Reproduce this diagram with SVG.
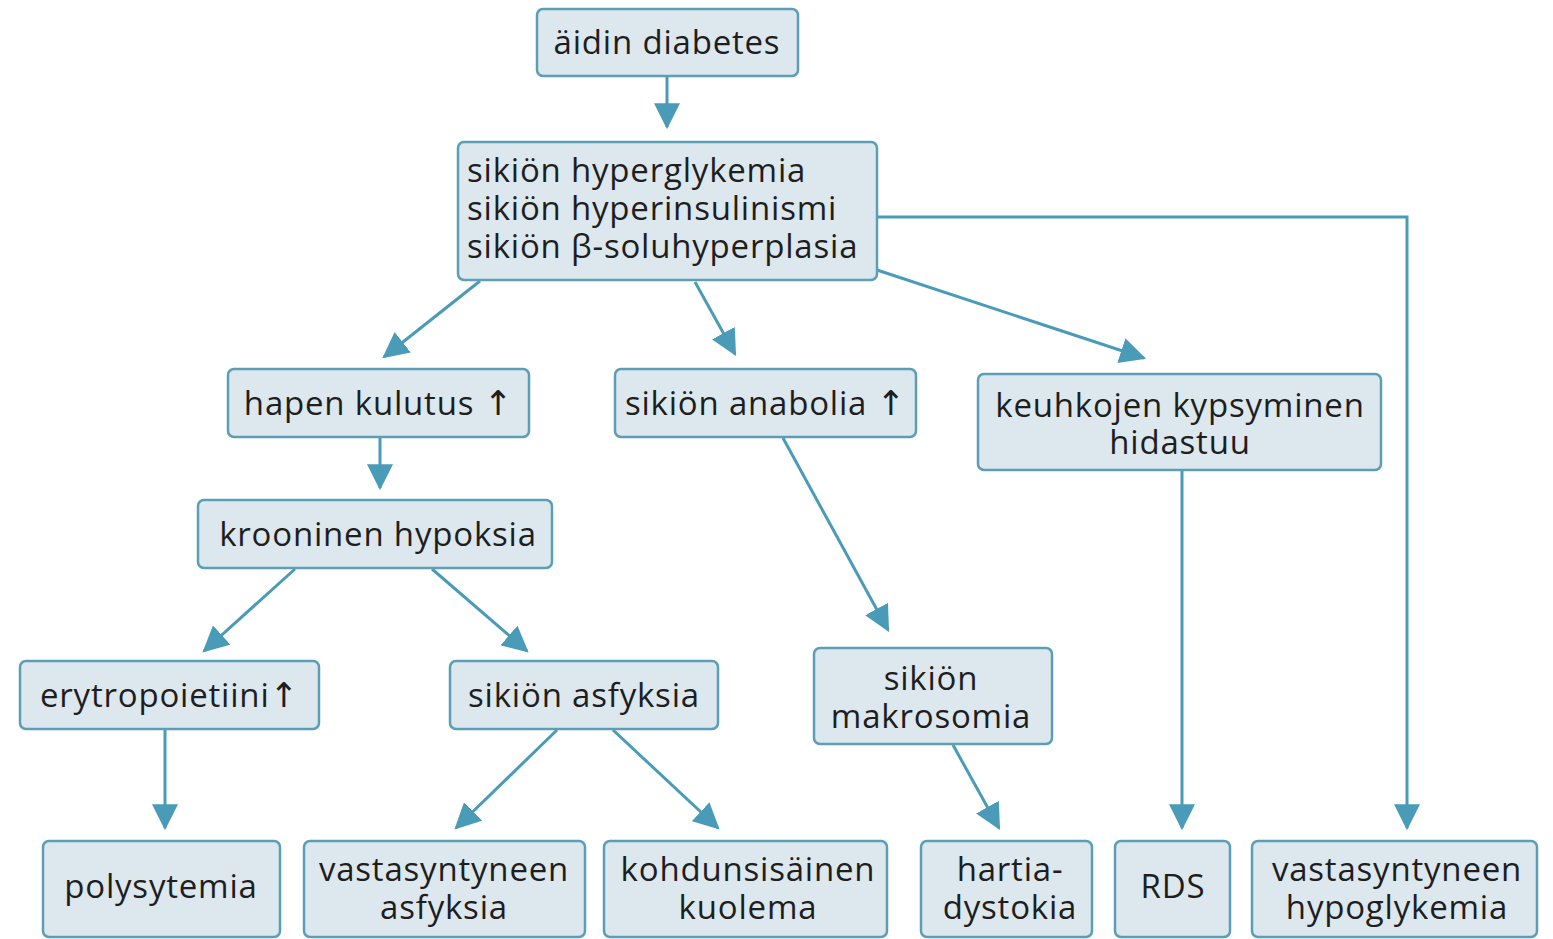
<svg xmlns="http://www.w3.org/2000/svg" width="1553" height="939" viewBox="0 0 1553 939">
<style>
.box{fill:#dce7ee;stroke:#5b9fb6;stroke-width:2.5}
.t{font-family:"Open Sans","Noto Sans","Liberation Sans",sans-serif;font-size:33px;letter-spacing:0.8px;fill:#1e1e1e}
.c{text-anchor:middle}
.up{font-family:"DejaVu Sans",sans-serif;font-size:34px;letter-spacing:0}
.ln{fill:none;stroke:#4a9bb8;stroke-width:3;marker-end:url(#ah)}
</style>
<defs>
<marker id="ah" markerUnits="userSpaceOnUse" markerWidth="26" markerHeight="26" viewBox="0 0 24 24" refX="22" refY="12" orient="auto">
<path d="M0,0 L24,12 L0,24 z" fill="#4a9bb8"/>
</marker>
</defs>
<rect width="1553" height="939" fill="#ffffff"/>
<g id="connectors">
<line class="ln" x1="667" y1="77" x2="667" y2="127"/>
<line class="ln" x1="480" y1="281" x2="384" y2="357"/>
<line class="ln" x1="695" y1="282" x2="735" y2="354"/>
<line class="ln" x1="877" y1="270" x2="1144" y2="358"/>
<polyline class="ln" points="877,217 1407,217 1407,828"/>
<line class="ln" x1="380" y1="438" x2="380" y2="488"/>
<line class="ln" x1="295" y1="569" x2="204" y2="651"/>
<line class="ln" x1="432" y1="569" x2="527" y2="651"/>
<line class="ln" x1="783" y1="438" x2="888" y2="630"/>
<line class="ln" x1="1182" y1="471" x2="1182" y2="828"/>
<line class="ln" x1="165" y1="730" x2="165" y2="828"/>
<line class="ln" x1="557" y1="730" x2="456" y2="828"/>
<line class="ln" x1="613" y1="730" x2="718" y2="828"/>
<line class="ln" x1="953" y1="745" x2="999" y2="828"/>
</g>
<g id="n1"><rect class="box" x="537" y="9" width="261" height="67" rx="6"/><text class="t c" x="667" y="54">äidin diabetes</text></g>
<g id="n2"><rect class="box" x="458" y="142" width="419" height="138" rx="6"/><text class="t" x="467" y="182">sikiön hyperglykemia<tspan x="467" y="220">sikiön hyperinsulinismi</tspan><tspan x="467" y="258">sikiön β-soluhyperplasia</tspan></text></g>
<g id="n3"><rect class="box" x="228" y="369" width="301" height="68" rx="6"/><text class="t c" x="378" y="415">hapen kulutus <tspan class="up">↑</tspan></text></g>
<g id="n4"><rect class="box" x="615" y="369" width="301" height="68" rx="6"/><text class="t c" x="765" y="415">sikiön anabolia <tspan class="up">↑</tspan></text></g>
<g id="n5"><rect class="box" x="978" y="374" width="403" height="96" rx="6"/><text class="t c" x="1180" y="417">keuhkojen kypsyminen<tspan x="1180" y="454">hidastuu</tspan></text></g>
<g id="n6"><rect class="box" x="198" y="500" width="354" height="68" rx="6"/><text class="t c" x="378" y="546">krooninen hypoksia</text></g>
<g id="n7"><rect class="box" x="20" y="661" width="299" height="68" rx="6"/><text class="t c" x="169" y="707">erytropoietiini<tspan class="up">↑</tspan></text></g>
<g id="n8"><rect class="box" x="450" y="661" width="268" height="68" rx="6"/><text class="t c" x="584" y="707">sikiön asfyksia</text></g>
<g id="n9"><rect class="box" x="814" y="648" width="238" height="96" rx="6"/><text class="t c" x="931" y="690">sikiön<tspan x="931" y="728">makrosomia</tspan></text></g>
<g id="n10"><rect class="box" x="43" y="841" width="237" height="96" rx="6"/><text class="t c" x="161" y="898">polysytemia</text></g>
<g id="n11"><rect class="box" x="304" y="841" width="281" height="96" rx="6"/><text class="t c" x="444" y="881">vastasyntyneen<tspan x="444" y="919">asfyksia</tspan></text></g>
<g id="n12"><rect class="box" x="604" y="841" width="283" height="96" rx="6"/><text class="t c" x="748" y="881">kohdunsisäinen<tspan x="748" y="919">kuolema</tspan></text></g>
<g id="n13"><rect class="box" x="921" y="841" width="171" height="96" rx="6"/><text class="t c" x="1010" y="881">hartia-<tspan x="1010" y="919">dystokia</tspan></text></g>
<g id="n14"><rect class="box" x="1115" y="841" width="115" height="96" rx="6"/><text class="t c" x="1173" y="898">RDS</text></g>
<g id="n15"><rect class="box" x="1252" y="841" width="285" height="96" rx="6"/><text class="t c" x="1397" y="881">vastasyntyneen<tspan x="1397" y="919">hypoglykemia</tspan></text></g>
</svg>
